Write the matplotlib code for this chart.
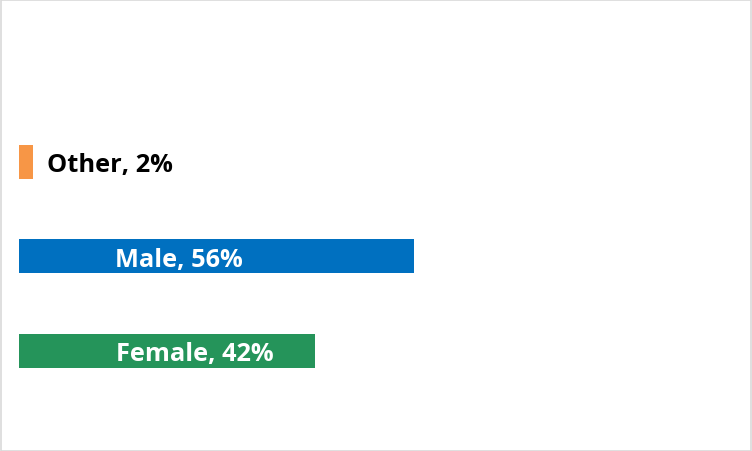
import matplotlib
matplotlib.use("Agg")
import matplotlib.pyplot as plt
from matplotlib.patches import Rectangle

categories = ["Female", "Male", "Other"]
values = [42, 56, 2]
colors = ["#25945A", "#0070C0", "#F79646"]
label_centers = [25.0, 22.7, None]  # in-bar label positions (None = outside end)

W, H = 752, 452
fig = plt.figure(figsize=(W / 100, H / 100), dpi=100)
ax = fig.add_axes([19 / W, 53.0 / H, 705 / W, 283.5 / H])
ax.barh(range(len(categories)), values, height=0.36, color=colors)
ax.set_xlim(0, 100)
ax.set_ylim(-0.5, 2.5)
ax.axis("off")

font = dict(family=["Open Sans", "DejaVu Sans"], fontweight="bold", fontsize=18.3)
for i, (c, v, lx) in enumerate(zip(categories, values, label_centers)):
    txt = f"{c}, {v}%"
    if lx is None:
        ax.text(v + 2, i, txt, ha="left", va="center_baseline", color="black", **font)
    else:
        ax.text(lx, i, txt, ha="center", va="center_baseline", color="white", **font)

fig.patches.append(Rectangle((0.5 / W, 0.5 / H), 1 - 1.5 / W, 1 - 1.5 / H,
                             transform=fig.transFigure, fill=False,
                             edgecolor="#D9D9D9", linewidth=1.2))
fig.savefig("out.png", dpi=100)
